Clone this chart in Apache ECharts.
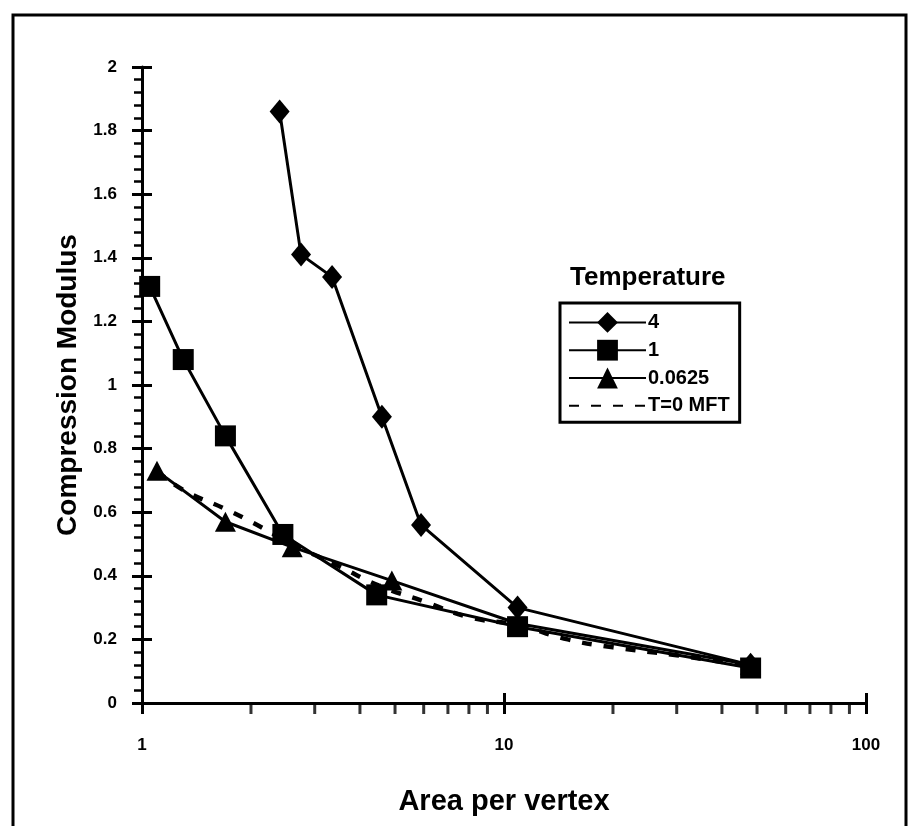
<!DOCTYPE html>
<html>
<head>
<meta charset="utf-8">
<script src="https://cdn.jsdelivr.net/npm/echarts@6/dist/echarts.min.js"></script>
<style>
html,body{margin:0;padding:0;background:#fff;}
#c{width:912px;height:826px;}
</style>
</head>
<body>
<div id="c"></div>
<script>
// ---- data ----
var seriesNames = ['4', '1', '0.0625', 'T=0 MFT'];
var t4_x = [2.4, 2.75, 3.35, 4.6, 5.9, 10.9, 48];
var t4_y = [1.86, 1.41, 1.34, 0.90, 0.56, 0.30, 0.12];
var t1_x = [1.05, 1.3, 1.7, 2.45, 4.45, 10.9, 48];
var t1_y = [1.31, 1.08, 0.84, 0.53, 0.34, 0.24, 0.11];
var t0625_x = [1.1, 1.7, 2.6, 4.9, 10.9, 48];
var t0625_y = [0.73, 0.57, 0.49, 0.385, 0.25, 0.12];
var mft_x = [1.1, 1.3, 1.7, 2.0, 2.6, 3.5, 4.5, 6, 8, 10.9, 15, 20, 30, 48];
var mft_y = [0.73, 0.67, 0.61, 0.57, 0.50, 0.43, 0.37, 0.32, 0.27, 0.245, 0.20, 0.175, 0.15, 0.115];
var xMinorTicks = [2, 3, 4, 5, 6, 7, 8, 9, 20, 30, 40, 50, 60, 70, 80, 90];
var yTickInterval = 0.2;

function pairs(xs, ys) { return xs.map(function (x, i) { return [x, ys[i]]; }); }

var FONT = '"Liberation Sans", Arial, Helvetica, sans-serif';
var chart = echarts.init(document.getElementById('c'), null, {renderer: 'canvas'});
var lineStyle = {color: '#000', width: 3};

var option = {
  backgroundColor: '#fff',
  animation: false,
  graphic: [
    {type: 'rect', shape: {x: 13, y: 15, width: 893, height: 830},
     style: {fill: 'none', stroke: '#000', lineWidth: 3}, z: 0},
    {type: 'text', left: 570, top: 265,
     style: {text: 'Temperature', font: 'bold 26px ' + FONT, fill: '#000'}}
  ],
  grid: {left: 142, right: 46, top: 67, bottom: 123, containLabel: false, outerBoundsMode: 'none'},
  xAxis: [{
    type: 'log', logBase: 10, min: 1, max: 100,
    name: 'Area per vertex', nameLocation: 'middle', nameGap: 84,
    nameTextStyle: {fontFamily: FONT, fontWeight: 'bold', fontSize: 29, color: '#000'},
    axisLine: {show: true, onZero: false, lineStyle: {color: '#000', width: 3}},
    axisTick: {show: true, inside: false, length: 11, lineStyle: {color: '#000', width: 3}},
    axisLabel: {show: true, margin: 34, fontFamily: FONT, fontWeight: 'bold', fontSize: 17, color: '#000'},
    splitLine: {show: false}
  }, {
    type: 'log', logBase: 10, min: 1, max: 100, position: 'bottom',
    axisLine: {show: false},
    axisTick: {show: true, inside: true, length: 10, lineStyle: {color: '#000', width: 3}},
    axisLabel: {show: false}, splitLine: {show: false}
  }],
  yAxis: [{
    type: 'value', min: 0, max: 2, interval: yTickInterval,
    name: 'Compression Modulus', nameLocation: 'middle', nameGap: 60, nameRotate: 90,
    nameTextStyle: {fontFamily: FONT, fontWeight: 'bold', fontSize: 28, color: '#000'},
    axisLine: {show: true, onZero: false, lineStyle: {color: '#000', width: 3}},
    axisTick: {show: true, inside: false, length: 10, lineStyle: {color: '#000', width: 3}},
    minorTick: {show: true, splitNumber: 5, length: 8, lineStyle: {color: '#000', width: 2.5}},
    axisLabel: {show: true, margin: 25, fontFamily: FONT, fontWeight: 'bold', fontSize: 17, color: '#000'},
    splitLine: {show: false}, minorSplitLine: {show: false}
  }, {
    type: 'value', min: 0, max: 2, interval: yTickInterval, position: 'left',
    axisLine: {show: false},
    axisTick: {show: true, inside: true, length: 10, lineStyle: {color: '#000', width: 3}},
    axisLabel: {show: false}, splitLine: {show: false}
  }],
  legend: {
    show: true, orient: 'vertical', left: 560, top: 303,
    data: seriesNames,
    itemWidth: 77, itemHeight: 26, itemGap: 7,
    padding: [9, 10, 6, 8],
    borderColor: '#000', borderWidth: 3, backgroundColor: '#fff',
    textStyle: {fontFamily: FONT, fontWeight: 'bold', fontSize: 20, color: '#000', padding: [0, 0, 0, -3]}
  },
  series: [
    {name: seriesNames[0], type: 'line', data: pairs(t4_x, t4_y),
     symbol: 'diamond', symbolSize: [20, 24], itemStyle: {color: '#000'},
     lineStyle: lineStyle, z: 5},
    {name: seriesNames[1], type: 'line', data: pairs(t1_x, t1_y),
     symbol: 'rect', symbolSize: 21, itemStyle: {color: '#000'},
     lineStyle: lineStyle, z: 5},
    {name: seriesNames[2], type: 'line', data: pairs(t0625_x, t0625_y),
     symbol: 'triangle', symbolSize: [21, 20], itemStyle: {color: '#000'},
     lineStyle: lineStyle, z: 5},
    {name: seriesNames[3], type: 'line', data: pairs(mft_x, mft_y),
     symbol: 'none', smooth: true, itemStyle: {color: 'rgba(0,0,0,0)'},
     lineStyle: {color: '#000', width: 4.5, type: [10, 12]}, z: 4},
    {name: 'minorTicks', type: 'scatter', data: xMinorTicks.map(function (v) { return [v, 0]; }),
     symbol: 'rect', symbolSize: [3, 10], symbolOffset: [0, 6], clip: false,
     itemStyle: {color: '#000'}, silent: true, z: 6}
  ]
};
chart.setOption(option);
</script>
</body>
</html>
